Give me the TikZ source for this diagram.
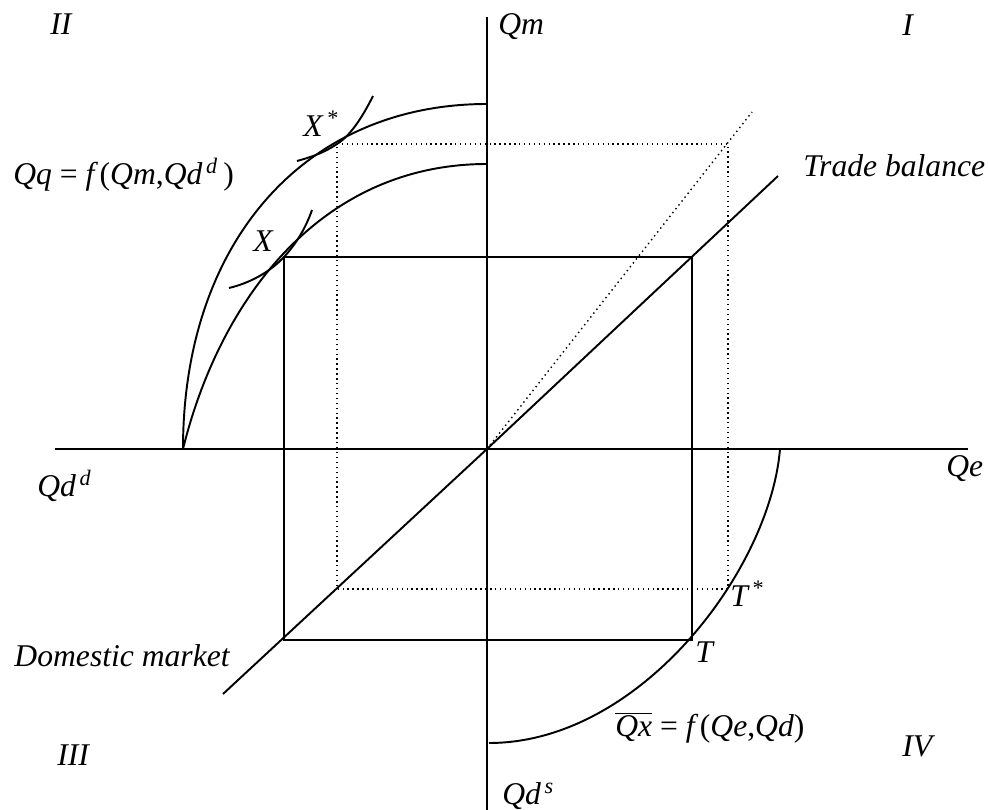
\documentclass[tikz,border=0pt]{standalone}
\usepackage{fontspec}
\setmainfont{Liberation Serif}
\usepackage{tikz}
\usetikzlibrary{calc}

\tikzset{
  lbl/.style={font=\fontsize{18}{21}\selectfont\itshape, inner sep=0pt},
  axisline/.style={line width=1.1pt},
  guide/.style={dotted, line width=0.8pt}
}
\newcommand{\up}[1]{\textup{#1}}

\begin{document}
\begin{tikzpicture}[x=0.02cm,y=-0.02cm]
\useasboundingbox (0,0) rectangle (988,810);
% axes
\coordinate (O) at (487,449);
\draw[axisline] (55,449)--(968,449);
\draw[axisline] (487,17)--(487,810);
% points
\coordinate (X) at (284,257);
\coordinate (Xs) at (337,144);
\coordinate (T) at (692,640);
\coordinate (Ts) at (728,589);
\coordinate (B) at (284,640);
\coordinate (Bs) at (337,589);
\coordinate (C) at (692,257);
\coordinate (Cs) at (728,144);
% trade balance / domestic market line
\draw[axisline] (223,694)--(O)--(778,176);
\draw[guide] (O)--(752,112);
% rectangles
\draw[axisline] (X)--(C)--(T)--(B)--cycle;
\draw[guide] (Xs)--(Cs)--(Ts)--(Bs)--cycle;
% quadrant II curves
\draw[axisline] (183,449) .. controls (183,242) and (305,104) .. (487,104);
\draw[axisline] (183,449) .. controls (220,299) and (321,164) .. (487,164);
\draw[axisline] (297,161) .. controls (315,156) and (325,152) .. (Xs)
  .. controls (350,136) and (362,118) .. (373,96);
\draw[axisline] (229,288) .. controls (250,283) and (270,272) .. (X)
  .. controls (295,245) and (305,230) .. (312,210);
% quadrant IV curve
\draw[axisline] (489,743) .. controls (640,743) and (770,570) .. (780,449);
% labels
\node[lbl, anchor=base west] (qII) at (50,35) {II};
\node[lbl, anchor=base west] (qI) at (902,36) {I};
\node[lbl, anchor=base west] (qIII) at (57,766) {III};
\node[lbl, anchor=base west] (qIV) at (902,757) {IV};
\node[lbl, anchor=base west] (Qm) at (498,35) {Qm};
\node[lbl, anchor=base west] (Qe) at (946,477) {Qe};
\node[lbl, anchor=base west] (Qdd) at (37,497) {Qd\textsuperscript{\,d}};
\node[lbl, anchor=base west] (Qds) at (502,805) {Qd\textsuperscript{\,s}};
\node[lbl, anchor=base west] (trade) at (803,177) {Trade balance};
\node[lbl, anchor=base east] (dom) at (230,667) {Domestic market};
\node[lbl, anchor=base west] (Xlbl) at (253,252) {X};
\node[lbl, anchor=base west] (Xslbl) at (303,137) {X\textsuperscript{\,*}};
\node[lbl, anchor=base west] (Tlbl) at (695,663) {T};
\node[lbl, anchor=base west] (Tslbl) at (730,607) {T\textsuperscript{\,*}};
\node[lbl, anchor=base west] (Qq) at (13,185)
  {Qq \up{=} f\,\up{(}Qm\up{,}Qd\textsuperscript{\,d}\,\up{)}};
\node[lbl, anchor=base west] (Qx) at (615,737)
  {$\overline{\mbox{\itshape Qx}}$ \up{=} f\,\up{(}Qe\up{,}Qd\up{)}};
\end{tikzpicture}
\end{document}
